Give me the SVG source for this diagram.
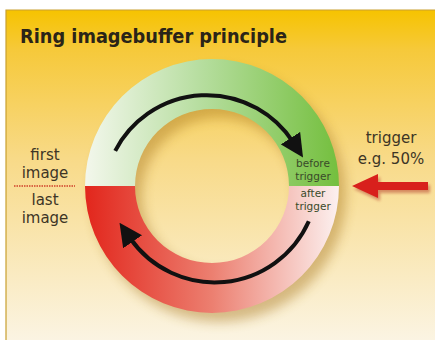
<svg xmlns="http://www.w3.org/2000/svg" width="435" height="340" viewBox="0 0 435 340">
<defs>
<linearGradient id="bg" x1="0" y1="0" x2="0" y2="1">
<stop offset="0" stop-color="#f6c300"/>
<stop offset="0.12" stop-color="#f6c93a"/>
<stop offset="0.45" stop-color="#f8da88"/>
<stop offset="1" stop-color="#fbf4e2"/>
</linearGradient>
<linearGradient id="gtop" x1="85" y1="0" x2="339" y2="0" gradientUnits="userSpaceOnUse">
<stop offset="0" stop-color="#f3f7ec"/>
<stop offset="0.45" stop-color="#b7dea0"/>
<stop offset="1" stop-color="#74bf3e"/>
</linearGradient>
<linearGradient id="gbot" x1="85" y1="0" x2="339" y2="0" gradientUnits="userSpaceOnUse">
<stop offset="0" stop-color="#e2261c"/>
<stop offset="0.5" stop-color="#ec7f70"/>
<stop offset="1" stop-color="#fcf1f0"/>
</linearGradient>
<filter id="blur" x="-20%" y="-20%" width="140%" height="140%">
<feGaussianBlur stdDeviation="6"/>
</filter>
<filter id="sblur" x="-20%" y="-50%" width="140%" height="200%">
<feGaussianBlur stdDeviation="1.5"/>
</filter>
<marker id="ah" viewBox="0 0 10 10" refX="2" refY="5" markerWidth="23" markerHeight="23" markerUnits="userSpaceOnUse" orient="auto">
<path d="M0,0 L10,5 L0,10 Z" fill="#111"/>
</marker>
<style>
.lbl{font-family:"DejaVu Sans","Liberation Sans",sans-serif;font-size:15px;fill:#3d3526;text-anchor:middle}
.sm{font-family:"DejaVu Sans","Liberation Sans",sans-serif;font-size:10.5px;fill:#3a4a2a;text-anchor:middle}
.arc{fill:none;stroke:#111;stroke-width:4}
</style>
</defs>
<rect x="0" y="0" width="435" height="340" fill="#ffffff"/>
<rect x="6" y="10" width="429" height="330" fill="url(#bg)"/>
<path d="M6,340 V10 H435" fill="none" stroke="#c9a030" stroke-width="1.2"/>
<text x="20" y="43" font-family="'DejaVu Sans','Liberation Sans',sans-serif" font-size="19" font-weight="bold" fill="#2a2418" textLength="267" lengthAdjust="spacingAndGlyphs">Ring imagebuffer principle</text>

<g id="shadow">
<path d="M85,186 A127,127 0 1 0 339,186 A127,127 0 1 0 85,186 Z M135,186 A77,77 0 1 1 289,186 A77,77 0 1 1 135,186 Z" fill-rule="evenodd" fill="#a87820" opacity="0.45" transform="translate(7,9)" filter="url(#blur)"/>
</g>
<g id="ring-top">
<path d="M85,186 A127,127 0 0 1 339,186 L289,186 A77,77 0 0 0 135,186 Z" fill="url(#gtop)"/>
</g>
<g id="ring-bottom">
<path d="M85,186 A127,127 0 0 0 339,186 L289,186 A77,77 0 0 1 135,186 Z" fill="url(#gbot)"/>
</g>

<g id="connectors">
<path class="arc" d="M115.2,150.8 A103,103 0 0 1 293,142" marker-end="url(#ah)"/>
<path class="arc" d="M308.8,221.2 A103,103 0 0 1 130,238" marker-end="url(#ah)"/>
</g>

<g id="labels-left">
<text class="lbl" x="45" y="160">first</text>
<text class="lbl" x="45" y="178">image</text>
<line x1="14" y1="186" x2="75" y2="186" stroke="#d0402a" stroke-width="1.5" stroke-dasharray="1.5,1"/>
<text class="lbl" x="45" y="205">last</text>
<text class="lbl" x="45" y="223">image</text>
</g>

<g id="labels-ring">
<text class="sm" x="313" y="167">before</text>
<text class="sm" x="313" y="180">trigger</text>
<text class="sm" x="313" y="197">after</text>
<text class="sm" x="313" y="210">trigger</text>
</g>

<g id="trigger">
<text class="lbl" x="391" y="143" font-size="16">trigger</text>
<text class="lbl" x="391" y="164" font-size="16">e.g. 50%</text>
<polygon points="352,186 378,174 378,182 428,182 428,190 378,190 378,198" fill="#a01010" opacity="0.4" transform="translate(2,3)" filter="url(#sblur)"/>
<polygon points="352,186 378,174 378,182 428,182 428,190 378,190 378,198" fill="#d8201c"/>
</g>
</svg>
